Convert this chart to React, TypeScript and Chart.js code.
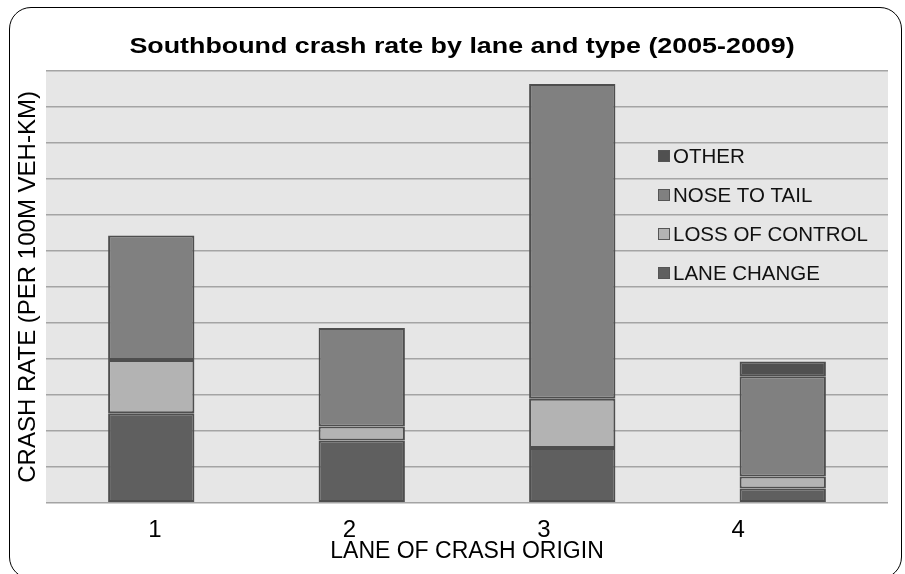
import React, { useEffect, useRef } from "react";
import { Chart, registerables } from "chart.js";

Chart.register(...registerables);

const categories = ["1", "2", "3", "4"];
const tickLabels = ["1", "2", "3", "4"];
const laneChange = [2.49, 1.73, 1.52, 0.4];
const lossOfControl = [1.48, 0.39, 1.37, 0.33];
const noseToTail = [3.46, 2.74, 8.75, 2.79];
const other = [null, null, null, 0.41];

const titleText = "Southbound crash rate by lane and type (2005-2009)";
const xTitle = "LANE OF CRASH ORIGIN";
const yTitle = "CRASH RATE (PER 100M VEH-KM)";

const FONT = '"Liberation Sans", Arial, sans-serif';

const bgPlugin = {
  id: "bgPlugin",
  beforeDraw(chart: any) {
    const { ctx, chartArea } = chart;
    ctx.save();
    ctx.fillStyle = "#e6e6e6";
    ctx.fillRect(chartArea.left, chartArea.top, chartArea.right - chartArea.left, chartArea.bottom - chartArea.top);
    ctx.restore();
  },
};

const titlePlugin = {
  id: "titlePlugin",
  afterDraw(chart: any) {
    const { ctx } = chart;
    ctx.save();
    ctx.font = "bold 22px " + FONT;
    ctx.fillStyle = "#000";
    ctx.textAlign = "center";
    ctx.textBaseline = "alphabetic";
    ctx.translate(462, 53);
    ctx.scale(1.22, 1);
    ctx.fillText(titleText, 0, 0);
    ctx.restore();
  },
};

const legendPlugin = {
  id: "legendPlugin",
  afterDraw(chart: any) {
    const { ctx, chartArea } = chart;
    const ds = chart.data.datasets.slice().reverse();
    const x0 = chartArea.right - 230;
    const y0 = chartArea.top + 85;
    ctx.save();
    ctx.font = "20.5px " + FONT;
    ctx.textBaseline = "middle";
    ctx.textAlign = "left";
    ds.forEach((d: any, i: number) => {
      const y = y0 + i * 39;
      ctx.fillStyle = d.backgroundColor;
      ctx.fillRect(x0, y - 6, 12, 12);
      ctx.strokeStyle = "#555";
      ctx.lineWidth = 1;
      ctx.strokeRect(x0 + 0.5, y - 5.5, 11, 11);
      ctx.fillStyle = "#111";
      ctx.fillText(d.label, x0 + 15, y + 1);
    });
    ctx.restore();
  },
};

export default function App() {
  const ref = useRef<HTMLCanvasElement | null>(null);
  useEffect(() => {
    if (!ref.current) return;
    const border = "#4e4e4e";
    const chart = new Chart(ref.current, {
      type: "bar",
      data: {
        labels: categories,
        datasets: [
          { label: "LANE CHANGE", data: laneChange, backgroundColor: "#5f5f5f", borderColor: border, borderWidth: 2, borderSkipped: false },
          { label: "LOSS OF CONTROL", data: lossOfControl, backgroundColor: "#b3b3b3", borderColor: border, borderWidth: 2, borderSkipped: false },
          { label: "NOSE TO TAIL", data: noseToTail, backgroundColor: "#808080", borderColor: border, borderWidth: 2, borderSkipped: false },
          { label: "OTHER", data: other as any, backgroundColor: "#505050", borderColor: border, borderWidth: 2, borderSkipped: false },
        ],
      },
      options: {
        responsive: false,
        animation: false,
        devicePixelRatio: 1,
        layout: { padding: { left: 12, right: 17, top: 71, bottom: 11 } },
        datasets: { bar: { barPercentage: 0.41, categoryPercentage: 1 } },
        plugins: {
          legend: { display: false },
          title: { display: false },
          tooltip: { enabled: false },
        },
        scales: {
          x: { type: "category", stacked: true, display: false },
          x2: {
            type: "linear",
            position: "bottom",
            offset: false,
            min: 0.44,
            max: 4.77,
            afterBuildTicks: (s: any) => {
              s.ticks = tickLabels.map((_, i) => ({ value: i + 1 }));
            },
            grid: { display: false, drawTicks: false },
            border: { display: false },
            ticks: {
              autoSkip: false,
              maxRotation: 0,
              padding: 18,
              color: "#000",
              font: { family: FONT, size: 24, lineHeight: 0.8 },
              callback: (v: any) => tickLabels[Math.round(v) - 1],
            },
            title: {
              display: true,
              text: xTitle,
              color: "#000",
              padding: { top: -18, bottom: 0 },
              font: { family: FONT, size: 23, lineHeight: 1 },
            },
          },
          y: {
            stacked: true,
            min: 0,
            max: 12,
            ticks: { display: false, stepSize: 1 },
            grid: { color: "#a4a4a4", lineWidth: 1.5, drawTicks: false },
            border: { display: false },
            title: {
              display: true,
              text: yTitle,
              color: "#000",
              padding: { top: 4, bottom: 6 },
              font: { family: FONT, size: 24, lineHeight: 1 },
            },
          },
        },
      },
      plugins: [bgPlugin, titlePlugin, legendPlugin],
    });
    return () => chart.destroy();
  }, []);
  return (
    <div style={{ position: "absolute", left: 0, top: 0, width: 905, height: 574, background: "#fff" }}>
      <canvas ref={ref} width={905} height={574} style={{ position: "absolute", left: 0, top: 0, width: 905, height: 574 }} />
      <div
        style={{
          position: "absolute",
          left: 9,
          top: 7,
          width: 893,
          height: 572,
          boxSizing: "border-box",
          border: "1.5px solid #000",
          borderRadius: 22,
          pointerEvents: "none",
        }}
      />
    </div>
  );
}
